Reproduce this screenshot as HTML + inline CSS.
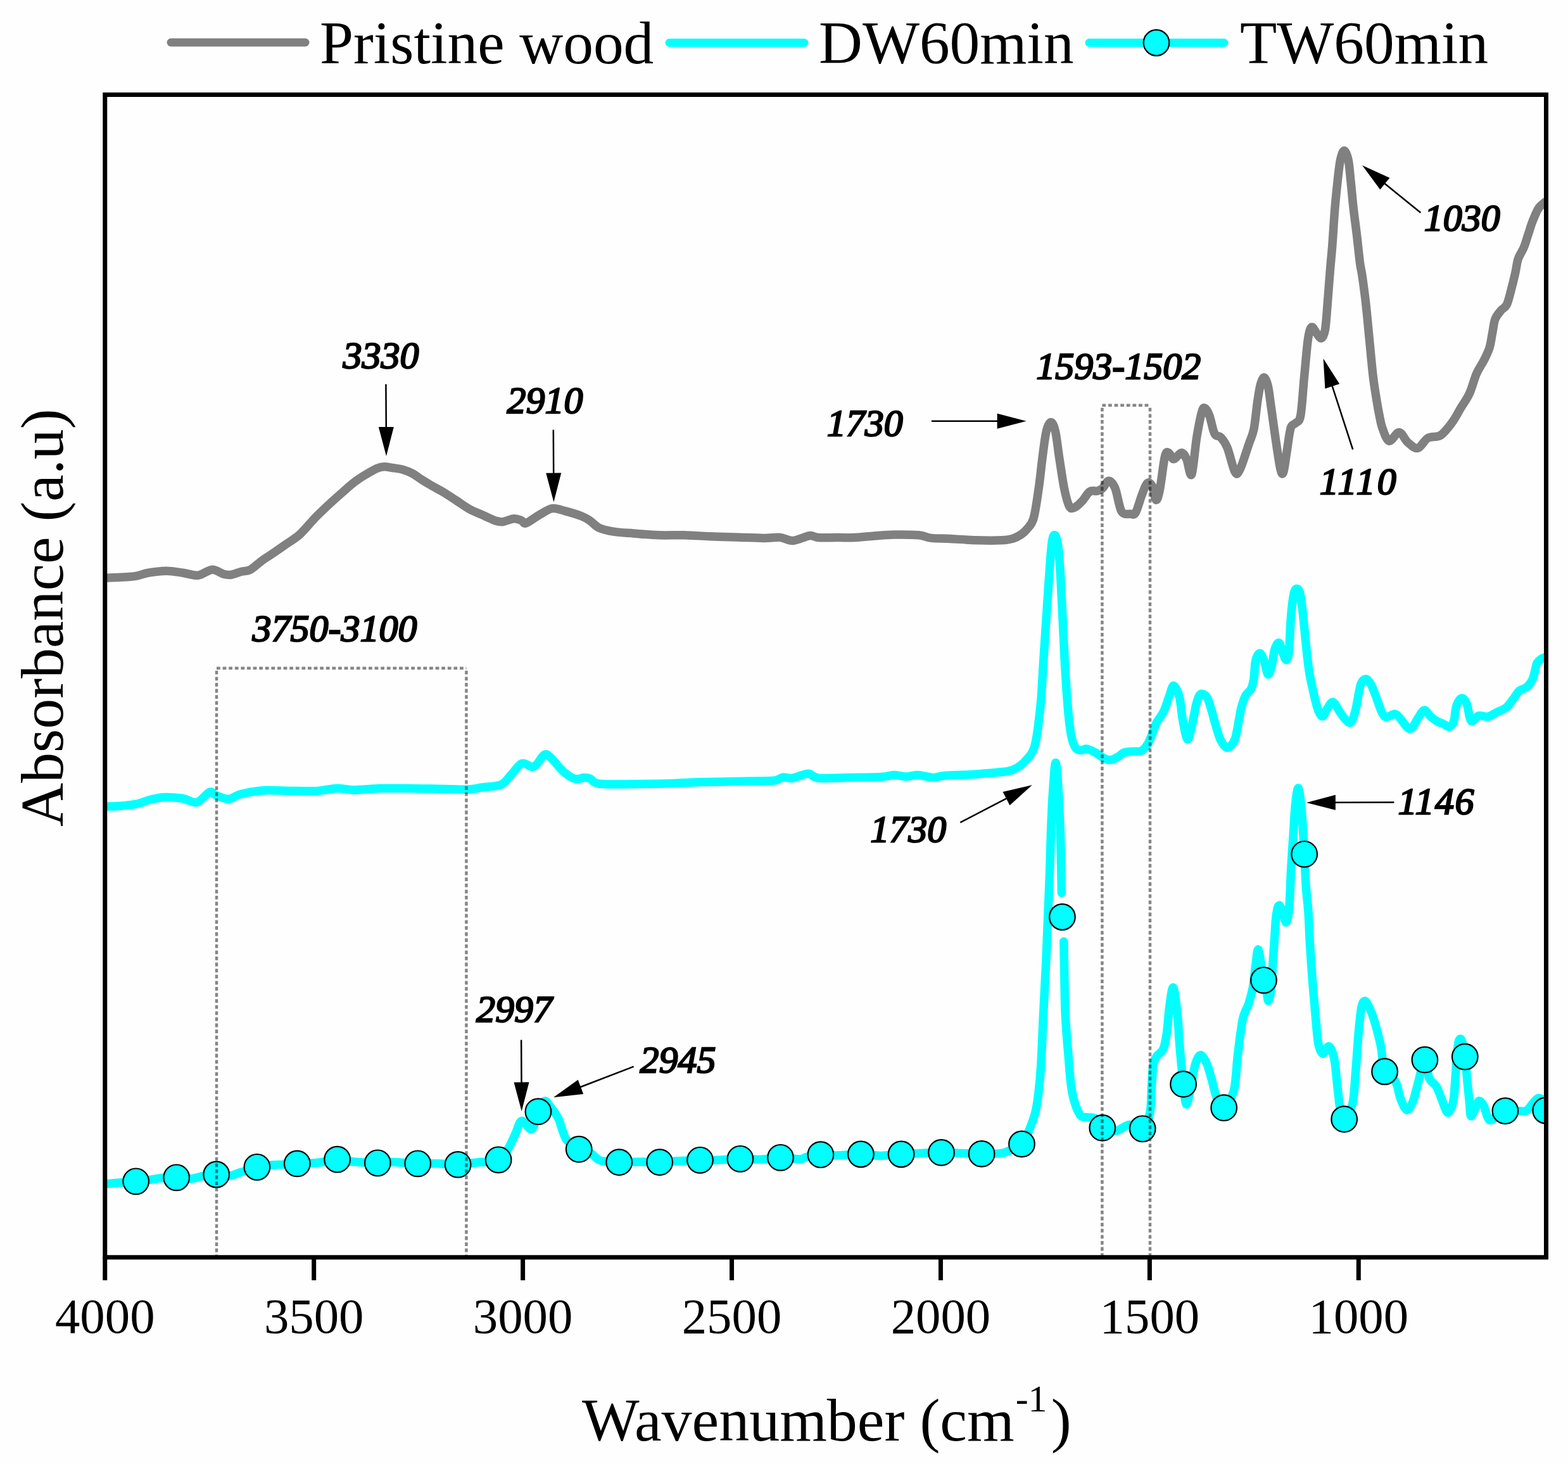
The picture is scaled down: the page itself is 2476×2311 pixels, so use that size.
<!DOCTYPE html>
<html><head><meta charset="utf-8"><title>FTIR spectra</title>
<style>html,body{margin:0;padding:0;background:#fff;} svg{display:block;}</style>
</head><body>
<svg width="2476" height="2311" viewBox="0 0 2476 2311">
<rect width="2476" height="2311" fill="#fefefe"/>
<defs><clipPath id="pc"><rect x="165.75" y="149.5" width="2275.75" height="1835.25"/></clipPath></defs>
<g clip-path="url(#pc)" fill="none" stroke-linejoin="round" stroke-linecap="round" stroke-width="13.5">
<path d="M166.0,912.3 C170.0,912.1 182.1,911.8 190.2,911.3 C198.2,910.8 206.9,910.5 214.3,909.3 C221.7,908.1 226.3,905.6 234.4,904.2 C242.5,902.9 253.5,901.2 262.6,901.2 C271.7,901.2 280.4,903.0 288.8,904.2 C297.2,905.4 305.2,909.0 312.9,908.2 C320.6,907.4 328.3,899.5 335.0,899.2 C341.7,898.9 348.2,904.9 353.2,906.2 C358.2,907.5 360.5,907.9 365.2,907.2 C369.9,906.5 376.3,903.5 381.3,902.2 C386.3,900.9 390.0,902.1 395.4,899.2 C400.8,896.4 407.5,889.5 413.5,885.1 C419.5,880.7 425.2,877.4 431.6,873.0 C438.0,868.6 445.1,863.7 451.8,859.0 C458.5,854.3 465.2,850.8 471.9,844.9 C478.6,839.0 487.3,828.5 492.0,823.5 C496.7,818.5 495.4,819.4 500.1,814.7 C504.8,810.1 513.5,801.8 520.2,795.6 C526.9,789.4 533.7,783.4 540.4,777.5 C547.1,771.6 553.8,765.4 560.5,760.4 C567.2,755.4 574.7,750.8 580.6,747.3 C586.5,743.8 591.3,741.0 595.7,739.2 C600.1,737.4 602.6,736.8 606.8,736.7 C611.0,736.6 615.9,738.0 620.8,738.7 C625.6,739.5 630.9,739.8 635.9,741.2 C640.9,742.6 646.0,744.6 651.0,747.3 C656.0,750.0 661.2,754.2 666.1,757.3 C671.0,760.4 674.7,762.6 680.5,766.0 C686.3,769.4 694.2,773.4 701.0,777.5 C707.8,781.6 714.4,786.1 721.1,790.5 C727.8,794.9 734.5,799.9 741.2,803.6 C747.9,807.3 754.6,809.7 761.3,812.7 C768.0,815.7 776.0,819.9 781.4,821.7 C786.8,823.5 788.5,824.2 793.5,823.7 C798.5,823.2 806.6,819.0 811.6,818.7 C816.6,818.4 820.5,820.5 823.7,821.7 C826.9,822.9 826.0,827.3 830.7,825.8 C835.4,824.3 845.0,816.6 851.9,812.7 C858.8,808.8 865.3,803.6 872.0,802.6 C878.7,801.6 884.4,804.6 892.1,806.6 C899.8,808.6 911.6,812.1 918.3,814.7 C924.9,817.3 927.4,819.2 932.0,822.3 C936.6,825.4 939.8,830.4 946.2,833.3 C952.6,836.1 961.2,837.9 970.3,839.4 C979.3,840.9 988.8,841.1 1000.5,842.0 C1012.2,842.9 1027.3,844.3 1040.7,844.8 C1054.1,845.3 1067.6,844.5 1081.0,844.8 C1094.4,845.1 1107.8,846.3 1121.2,846.8 C1134.6,847.3 1147.3,847.6 1161.4,848.0 C1175.5,848.4 1194.0,849.3 1205.7,849.4 C1217.5,849.5 1224.2,847.7 1231.9,848.4 C1239.6,849.1 1244.3,853.8 1252.0,853.4 C1259.7,853.0 1271.4,846.5 1278.1,845.7 C1284.8,844.9 1285.2,848.1 1292.2,848.6 C1299.2,849.1 1310.3,848.6 1320.0,848.6 C1329.7,848.6 1340.2,848.8 1350.3,848.4 C1360.4,848.0 1370.4,846.7 1380.5,846.0 C1390.6,845.3 1399.0,844.2 1410.7,844.0 C1422.4,843.8 1440.9,843.9 1450.9,844.8 C1461.0,845.7 1462.6,848.5 1471.0,849.4 C1479.4,850.3 1489.5,849.8 1501.2,850.4 C1512.9,851.0 1528.0,852.4 1541.4,852.8 C1554.8,853.2 1571.9,853.3 1581.7,852.8 C1591.5,852.3 1595.0,851.5 1600.0,850.0 C1605.0,848.5 1608.5,846.3 1612.0,844.0 C1615.5,841.7 1617.7,840.2 1621.0,836.0 C1624.3,831.8 1628.8,829.3 1632.0,818.5 C1635.2,807.7 1637.8,787.3 1640.2,771.0 C1642.6,754.7 1644.3,735.8 1646.3,720.7 C1648.3,705.6 1650.1,689.5 1652.3,680.5 C1654.5,671.5 1657.1,666.4 1659.4,666.4 C1661.8,666.4 1664.2,671.5 1666.4,680.5 C1668.6,689.5 1670.1,705.6 1672.4,720.7 C1674.8,735.8 1677.8,757.9 1680.5,771.0 C1683.2,784.1 1685.8,794.2 1688.5,799.2 C1691.2,804.2 1693.2,802.6 1696.6,801.2 C1700.0,799.9 1704.7,795.3 1708.7,791.1 C1712.7,786.9 1716.7,778.8 1720.7,776.1 C1724.7,773.4 1729.5,775.9 1732.8,775.0 C1736.1,774.1 1737.8,773.7 1740.8,771.0 C1743.8,768.3 1747.5,759.0 1750.9,759.0 C1754.3,759.0 1757.7,763.0 1761.0,771.0 C1764.3,779.0 1767.0,800.5 1771.0,807.2 C1775.0,813.9 1781.4,810.9 1785.1,811.3 C1788.8,811.6 1790.2,814.3 1793.2,809.3 C1796.2,804.3 1800.2,788.8 1803.2,781.1 C1806.2,773.4 1808.6,765.4 1811.3,763.0 C1814.0,760.6 1816.9,762.6 1819.3,767.0 C1821.7,771.4 1823.4,788.1 1825.4,789.1 C1827.4,790.1 1829.1,784.4 1831.4,773.0 C1833.7,761.6 1837.1,730.4 1839.4,720.7 C1841.8,711.0 1843.2,714.0 1845.5,714.7 C1847.8,715.4 1850.2,724.7 1853.5,724.7 C1856.8,724.7 1862.2,714.7 1865.6,714.7 C1868.9,714.7 1870.9,719.0 1873.6,724.7 C1876.3,730.4 1879.0,754.6 1881.7,748.9 C1884.4,743.2 1887.0,706.9 1889.7,690.5 C1892.4,674.1 1895.6,658.0 1897.8,650.3 C1900.0,642.6 1900.8,643.3 1902.8,644.3 C1904.8,645.3 1907.4,649.6 1909.9,656.3 C1912.4,663.0 1914.9,678.8 1917.9,684.5 C1920.9,690.2 1924.7,686.8 1928.0,690.5 C1931.3,694.2 1934.3,697.5 1938.0,706.6 C1941.7,715.7 1946.8,739.2 1950.1,744.9 C1953.4,750.6 1954.4,748.2 1958.1,740.8 C1961.8,733.4 1968.5,711.2 1972.2,700.6 C1975.9,690.0 1977.7,688.3 1980.0,677.0 C1982.3,665.7 1984.0,644.6 1985.8,632.8 C1987.6,621.0 1988.9,612.1 1990.7,606.0 C1992.5,599.9 1994.6,595.4 1996.5,596.0 C1998.4,596.6 2000.5,601.8 2002.3,609.5 C2004.1,617.2 2005.2,628.9 2007.2,642.5 C2009.2,656.1 2011.6,674.8 2014.0,691.0 C2016.4,707.2 2019.6,730.4 2021.7,739.5 C2023.8,748.6 2024.8,750.2 2026.6,745.4 C2028.4,740.5 2030.5,722.0 2032.4,710.4 C2034.3,698.8 2035.9,682.6 2038.2,675.5 C2040.5,668.4 2043.4,671.0 2046.0,667.8 C2048.6,664.6 2051.4,668.4 2053.7,656.1 C2056.0,643.8 2057.6,614.0 2059.6,594.0 C2061.6,574.0 2063.5,548.7 2065.4,535.8 C2067.3,522.9 2068.9,518.0 2071.2,516.4 C2073.5,514.8 2076.4,523.2 2079.0,526.1 C2081.6,529.0 2084.4,534.9 2086.7,533.9 C2088.9,532.9 2090.9,529.7 2092.5,520.3 C2094.1,510.9 2095.1,493.5 2096.4,477.6 C2097.7,461.7 2099.2,440.4 2100.5,425.0 C2101.8,409.6 2102.8,401.2 2104.0,385.0 C2105.2,368.8 2106.6,344.5 2108.0,327.8 C2109.4,311.1 2110.9,297.3 2112.3,284.7 C2113.7,272.1 2114.9,260.1 2116.6,252.3 C2118.3,244.5 2120.5,237.8 2122.6,237.8 C2124.7,237.8 2127.3,244.5 2129.0,252.3 C2130.7,260.1 2131.5,272.1 2132.8,284.7 C2134.2,297.3 2135.5,313.4 2137.1,327.8 C2138.7,342.2 2140.8,356.4 2142.5,370.9 C2144.2,385.4 2146.1,404.3 2147.5,415.0 C2148.9,425.7 2149.5,424.6 2151.0,435.0 C2152.5,445.4 2154.7,460.8 2156.6,477.6 C2158.5,494.4 2160.5,516.4 2162.4,535.8 C2164.3,555.2 2166.3,577.8 2168.2,594.0 C2170.1,610.2 2172.4,622.6 2174.0,632.8 C2175.6,643.0 2176.5,647.8 2178.0,655.0 C2179.5,662.2 2180.4,669.1 2183.0,676.0 C2185.6,682.9 2189.2,695.0 2193.6,696.1 C2198.0,697.2 2204.5,682.1 2209.4,682.5 C2214.3,682.9 2218.1,694.1 2223.0,698.3 C2227.9,702.4 2233.5,708.5 2238.8,707.4 C2244.1,706.3 2248.7,694.9 2254.7,691.5 C2260.7,688.1 2268.6,691.1 2275.0,687.0 C2281.4,682.9 2287.9,673.8 2293.2,666.6 C2298.5,659.4 2302.2,651.5 2306.7,644.0 C2311.2,636.5 2316.2,630.4 2320.3,621.4 C2324.5,612.4 2327.8,598.4 2331.6,589.7 C2335.4,581.0 2339.6,576.1 2343.0,569.3 C2346.4,562.5 2349.8,556.2 2352.0,549.0 C2354.2,541.8 2355.0,533.8 2356.5,526.3 C2358.0,518.8 2358.7,509.7 2361.0,503.7 C2363.3,497.7 2367.1,493.9 2370.1,490.1 C2373.1,486.3 2376.5,486.4 2379.2,481.1 C2381.8,475.8 2383.8,466.7 2386.0,458.4 C2388.2,450.1 2390.8,439.6 2392.7,431.3 C2394.6,423.0 2395.0,415.4 2397.3,408.6 C2399.6,401.8 2403.7,396.9 2406.3,390.5 C2408.9,384.1 2410.8,377.0 2413.1,370.2 C2415.4,363.4 2417.2,356.6 2419.9,349.8 C2422.6,343.0 2426.0,334.3 2429.0,329.4 C2432.0,324.5 2435.9,322.3 2438.0,320.4 C2440.1,318.5 2440.9,318.4 2441.5,318.0" stroke="#808080"/>
<path d="M166.0,1273.0 C170.0,1272.9 181.5,1273.0 190.2,1272.2 C198.9,1271.5 210.7,1270.1 218.4,1268.5 C226.1,1266.9 229.5,1264.2 236.5,1262.5 C243.5,1260.8 251.9,1258.8 260.6,1258.5 C269.3,1258.2 280.4,1259.2 288.8,1260.5 C297.2,1261.8 303.9,1268.2 310.9,1266.5 C317.9,1264.8 326.0,1252.2 331.0,1250.4 C336.0,1248.6 336.1,1253.7 341.1,1255.5 C346.1,1257.3 355.2,1261.7 361.2,1261.5 C367.2,1261.3 370.6,1256.4 377.3,1254.4 C384.0,1252.4 394.0,1250.6 401.4,1249.4 C408.8,1248.2 411.5,1247.6 421.6,1247.4 C431.7,1247.2 448.4,1248.2 461.8,1248.4 C475.2,1248.6 490.4,1249.1 502.1,1248.4 C513.8,1247.7 522.6,1244.6 532.2,1244.4 C541.9,1244.2 548.6,1247.0 560.0,1247.0 C571.4,1247.0 587.0,1245.0 600.4,1244.6 C613.8,1244.2 627.2,1244.5 640.6,1244.6 C654.0,1244.7 664.9,1244.7 680.8,1245.0 C696.7,1245.3 722.8,1246.5 736.2,1246.2 C749.6,1245.9 752.1,1244.3 761.3,1243.0 C770.5,1241.7 783.8,1241.9 791.5,1238.5 C799.2,1235.1 802.2,1227.9 807.6,1222.4 C813.0,1216.9 818.3,1207.3 823.7,1205.3 C829.1,1203.3 835.8,1210.2 839.8,1210.4 C843.8,1210.6 844.4,1209.5 847.8,1206.3 C851.1,1203.1 856.2,1192.9 859.9,1191.2 C863.6,1189.5 865.0,1191.8 870.0,1196.3 C875.0,1200.8 883.7,1212.9 890.1,1218.4 C896.5,1223.9 902.8,1228.0 908.2,1229.5 C913.6,1231.0 918.3,1227.5 922.3,1227.5 C926.3,1227.5 928.0,1227.6 932.0,1229.2 C936.0,1230.8 934.8,1235.9 946.2,1237.3 C957.6,1238.7 981.4,1237.8 1000.5,1237.7 C1019.6,1237.6 1044.0,1237.2 1060.8,1236.7 C1077.6,1236.2 1081.6,1235.3 1101.1,1234.7 C1120.5,1234.1 1157.4,1233.7 1177.5,1233.3 C1197.6,1232.9 1212.1,1233.3 1221.8,1232.3 C1231.5,1231.3 1230.9,1227.9 1235.9,1227.2 C1240.9,1226.5 1245.3,1229.2 1252.0,1228.2 C1258.7,1227.2 1269.4,1221.2 1276.1,1221.2 C1282.8,1221.2 1281.5,1227.2 1292.2,1228.2 C1302.9,1229.2 1323.8,1227.8 1340.2,1227.5 C1356.6,1227.2 1378.4,1227.2 1390.5,1226.5 C1402.6,1225.8 1406.0,1223.5 1412.7,1223.4 C1419.4,1223.3 1424.8,1226.1 1430.8,1226.1 C1436.8,1226.1 1441.9,1223.2 1448.9,1223.4 C1455.9,1223.6 1466.0,1227.3 1473.0,1227.5 C1480.0,1227.7 1481.4,1225.2 1491.1,1224.4 C1500.8,1223.6 1519.7,1223.5 1531.4,1222.8 C1543.2,1222.1 1551.5,1221.3 1561.6,1220.4 C1571.7,1219.5 1584.4,1218.8 1591.8,1217.4 C1599.2,1216.0 1601.4,1214.5 1605.8,1212.0 C1610.2,1209.5 1613.4,1208.0 1618.1,1202.3 C1622.8,1196.5 1629.8,1192.2 1633.9,1177.5 C1638.1,1162.8 1640.7,1136.0 1643.0,1114.1 C1645.3,1092.2 1646.0,1068.8 1647.5,1046.2 C1649.0,1023.6 1650.5,1001.0 1652.0,978.4 C1653.5,955.8 1655.1,930.9 1656.6,910.5 C1658.1,890.1 1659.5,867.1 1661.1,856.2 C1662.7,845.3 1664.4,843.4 1666.1,844.9 C1667.8,846.4 1669.9,854.3 1671.3,865.2 C1672.7,876.1 1673.6,891.6 1674.7,910.5 C1675.8,929.4 1677.0,955.8 1678.1,978.4 C1679.2,1001.0 1680.1,1023.6 1681.4,1046.2 C1682.7,1068.8 1684.4,1095.5 1686.0,1114.1 C1687.6,1132.7 1689.0,1147.0 1691.0,1158.0 C1693.0,1169.0 1695.3,1175.6 1698.0,1180.0 C1700.7,1184.4 1704.2,1184.1 1707.2,1184.4 C1710.2,1184.8 1712.4,1181.5 1716.2,1182.1 C1720.0,1182.7 1726.0,1186.0 1729.8,1188.0 C1733.6,1190.0 1735.9,1192.5 1738.9,1194.3 C1741.9,1196.1 1744.9,1198.1 1747.9,1198.9 C1750.9,1199.7 1754.0,1199.7 1757.0,1198.9 C1760.0,1198.1 1763.0,1196.1 1766.0,1194.3 C1769.0,1192.5 1771.3,1189.3 1775.1,1188.0 C1778.9,1186.7 1784.2,1186.7 1788.7,1186.2 C1793.2,1185.8 1798.5,1187.0 1802.3,1185.3 C1806.1,1183.6 1809.0,1179.2 1811.3,1176.2 C1813.6,1173.2 1814.2,1171.0 1815.9,1167.2 C1817.6,1163.4 1819.5,1158.1 1821.3,1153.6 C1823.1,1149.1 1824.0,1145.1 1826.7,1140.0 C1829.4,1134.9 1834.3,1130.2 1837.6,1123.2 C1840.9,1116.2 1844.0,1105.1 1846.6,1098.3 C1849.2,1091.5 1850.8,1082.0 1853.4,1082.4 C1856.0,1082.8 1860.1,1091.7 1862.4,1100.5 C1864.8,1109.3 1865.4,1124.3 1867.5,1135.4 C1869.6,1146.5 1872.6,1165.8 1875.1,1167.1 C1877.6,1168.4 1880.3,1152.0 1882.6,1143.0 C1884.9,1134.0 1886.8,1120.3 1888.7,1112.8 C1890.6,1105.2 1892.2,1100.6 1894.0,1097.7 C1895.8,1094.8 1897.1,1094.8 1899.2,1095.5 C1901.3,1096.2 1904.5,1098.1 1906.8,1102.2 C1909.1,1106.3 1910.5,1112.9 1912.8,1120.3 C1915.0,1127.7 1918.0,1139.2 1920.3,1146.7 C1922.6,1154.2 1923.9,1160.2 1926.4,1165.6 C1928.9,1171.0 1932.6,1177.2 1935.4,1179.2 C1938.2,1181.2 1940.5,1180.0 1943.0,1177.7 C1945.5,1175.4 1948.2,1172.6 1950.5,1165.6 C1952.8,1158.5 1955.0,1143.6 1956.6,1135.4 C1958.2,1127.2 1958.5,1122.9 1960.3,1116.6 C1962.0,1110.3 1964.6,1102.5 1967.1,1097.7 C1969.6,1092.9 1973.3,1092.3 1975.4,1087.9 C1977.5,1083.5 1978.7,1078.7 1979.9,1071.3 C1981.1,1063.9 1981.0,1050.1 1982.6,1043.4 C1984.2,1036.7 1987.1,1031.3 1989.4,1031.3 C1991.7,1031.3 1994.1,1037.9 1996.2,1043.4 C1998.3,1048.9 2000.2,1063.2 2002.2,1064.5 C2004.2,1065.8 2006.5,1057.5 2008.3,1050.9 C2010.1,1044.4 2010.9,1031.2 2012.8,1025.2 C2014.7,1019.2 2017.6,1014.2 2019.6,1014.7 C2021.6,1015.2 2023.0,1023.8 2024.9,1028.3 C2026.8,1032.8 2029.2,1041.8 2030.9,1041.8 C2032.7,1041.8 2034.2,1039.4 2035.4,1028.3 C2036.7,1017.2 2037.1,990.5 2038.4,975.4 C2039.7,960.3 2041.3,945.4 2043.0,937.7 C2044.7,930.0 2046.6,929.1 2048.3,929.4 C2050.1,929.6 2051.9,931.5 2053.5,939.2 C2055.1,946.9 2056.6,961.8 2058.1,975.4 C2059.6,989.0 2061.1,1006.9 2062.6,1020.7 C2064.1,1034.5 2065.3,1047.1 2067.1,1058.4 C2068.8,1069.7 2070.8,1078.5 2073.1,1088.6 C2075.4,1098.7 2078.2,1111.8 2080.7,1118.8 C2083.2,1125.8 2085.7,1130.9 2088.2,1130.9 C2090.7,1130.9 2093.0,1122.6 2095.8,1118.8 C2098.6,1115.0 2101.5,1107.5 2104.8,1108.2 C2108.1,1109.0 2112.1,1118.8 2115.4,1123.3 C2118.7,1127.8 2121.4,1132.6 2124.4,1135.4 C2127.4,1138.2 2130.7,1142.7 2133.5,1139.9 C2136.3,1137.1 2138.5,1128.6 2141.0,1118.8 C2143.5,1109.0 2145.9,1088.9 2148.6,1081.1 C2151.2,1073.3 2154.1,1072.0 2156.9,1072.0 C2159.7,1072.0 2162.6,1076.6 2165.2,1081.1 C2167.8,1085.6 2169.9,1092.0 2172.7,1099.2 C2175.5,1106.4 2179.2,1118.5 2181.9,1124.0 C2184.7,1129.5 2185.8,1131.5 2189.2,1132.0 C2192.6,1132.5 2198.7,1126.5 2202.3,1126.9 C2206.0,1127.3 2207.7,1130.6 2211.1,1134.2 C2214.5,1137.8 2219.5,1146.4 2222.7,1148.8 C2225.8,1151.2 2227.3,1151.2 2230.0,1148.8 C2232.7,1146.4 2235.6,1138.8 2238.8,1134.2 C2242.0,1129.6 2245.6,1121.6 2249.0,1121.1 C2252.4,1120.6 2255.8,1128.4 2259.2,1131.3 C2262.6,1134.2 2266.0,1136.6 2269.4,1138.6 C2272.8,1140.5 2276.4,1141.5 2279.6,1143.0 C2282.8,1144.5 2285.7,1148.0 2288.4,1147.3 C2291.1,1146.6 2293.8,1144.2 2295.7,1138.6 C2297.6,1133.0 2297.9,1119.9 2300.0,1113.8 C2302.1,1107.7 2305.4,1102.6 2308.1,1102.1 C2310.8,1101.6 2314.0,1106.0 2316.1,1110.9 C2318.2,1115.8 2319.1,1126.7 2320.5,1131.3 C2321.9,1135.9 2322.4,1138.8 2324.8,1138.6 C2327.2,1138.3 2331.0,1131.0 2335.1,1129.8 C2339.2,1128.6 2344.8,1132.3 2349.6,1131.3 C2354.4,1130.3 2359.3,1126.4 2364.2,1124.0 C2369.1,1121.6 2374.4,1120.4 2378.8,1116.7 C2383.2,1113.0 2387.1,1106.5 2390.5,1102.1 C2393.9,1097.7 2395.8,1093.3 2399.2,1090.4 C2402.6,1087.5 2407.5,1087.5 2410.9,1084.6 C2414.3,1081.7 2417.5,1077.3 2419.7,1072.9 C2421.9,1068.5 2422.8,1062.8 2424.0,1058.4 C2425.2,1054.0 2425.5,1049.6 2427.0,1046.7 C2428.5,1043.8 2430.7,1042.3 2432.8,1040.8 C2434.9,1039.3 2438.0,1038.5 2439.4,1037.9 C2440.8,1037.3 2441.2,1037.2 2441.5,1037.0" stroke="#00FFFF"/>
<path d="M166.0,1868.9 C170.7,1868.5 186.1,1867.2 194.2,1866.5 C202.3,1865.8 207.6,1865.5 214.7,1864.8 C221.8,1864.1 229.5,1863.3 236.5,1862.4 C243.5,1861.5 249.6,1860.0 256.6,1859.4 C263.6,1858.8 271.3,1858.6 278.7,1858.8 C286.1,1859.0 295.1,1860.9 300.8,1860.8 C306.5,1860.7 309.5,1859.1 312.9,1858.4 C316.3,1857.7 316.2,1857.1 321.0,1856.4 C325.8,1855.7 335.0,1854.0 341.7,1854.0 C348.4,1854.0 355.3,1856.8 361.2,1856.4 C367.1,1856.0 372.9,1852.7 377.3,1851.4 C381.7,1850.1 382.6,1849.9 387.4,1848.4 C392.2,1846.9 399.2,1843.8 405.9,1842.3 C412.6,1840.8 420.6,1840.0 427.6,1839.3 C434.6,1838.6 440.8,1838.7 447.7,1838.3 C454.6,1837.9 461.9,1837.2 469.3,1836.9 C476.7,1836.6 485.2,1836.7 492.0,1836.3 C498.8,1835.9 503.3,1835.3 510.1,1834.3 C516.9,1833.3 525.3,1830.3 532.6,1830.2 C539.9,1830.1 543.5,1832.5 554.1,1833.4 C564.7,1834.3 585.2,1835.6 596.3,1835.8 C607.4,1836.0 609.9,1834.2 620.5,1834.4 C631.1,1834.6 648.0,1836.4 659.7,1836.8 C671.4,1837.2 680.3,1836.5 690.9,1836.8 C701.5,1837.1 713.0,1838.7 723.1,1838.4 C733.2,1838.1 743.2,1836.0 751.3,1835.2 C759.3,1834.4 765.4,1834.5 771.4,1833.8 C777.4,1833.1 782.1,1834.0 787.1,1830.8 C792.1,1827.6 797.2,1821.4 801.6,1814.7 C806.0,1808.0 809.9,1798.0 813.6,1790.5 C817.3,1783.0 819.3,1770.7 823.7,1769.4 C828.1,1768.1 835.4,1785.0 839.8,1782.5 C844.2,1780.0 846.5,1762.1 849.9,1754.7 C853.2,1747.3 856.5,1739.3 859.9,1738.2 C863.2,1737.1 866.3,1743.6 870.0,1748.3 C873.7,1753.0 878.1,1758.0 882.1,1766.4 C886.1,1774.8 888.8,1790.6 894.1,1798.6 C899.5,1806.5 907.9,1810.5 914.2,1814.1 C920.5,1817.7 926.7,1817.3 932.0,1820.2 C937.3,1823.1 941.5,1829.0 946.2,1831.3 C950.9,1833.6 955.0,1833.3 960.2,1833.9 C965.5,1834.5 969.3,1834.7 977.7,1834.7 C986.1,1834.7 999.8,1833.9 1010.5,1833.9 C1021.2,1833.9 1031.6,1834.9 1041.7,1834.7 C1051.8,1834.5 1060.3,1833.3 1070.9,1832.7 C1081.5,1832.1 1095.4,1831.5 1105.5,1831.3 C1115.6,1831.1 1120.7,1831.6 1131.3,1831.3 C1141.9,1831.0 1157.2,1829.5 1168.9,1829.3 C1180.6,1829.1 1191.1,1830.6 1201.7,1830.3 C1212.3,1830.0 1222.5,1827.4 1232.5,1827.3 C1242.5,1827.2 1255.1,1830.1 1262.0,1829.9 C1268.9,1829.7 1268.4,1827.5 1274.1,1826.3 C1279.8,1825.1 1288.2,1823.1 1295.9,1822.7 C1303.6,1822.3 1309.5,1824.1 1320.1,1824.0 C1330.7,1823.9 1347.7,1821.9 1359.4,1822.0 C1371.1,1822.1 1379.9,1824.4 1390.5,1824.4 C1401.1,1824.4 1412.4,1822.7 1423.1,1822.0 C1433.8,1821.3 1444.3,1820.8 1454.9,1820.4 C1465.5,1820.0 1476.1,1819.4 1486.5,1819.4 C1496.9,1819.4 1506.7,1820.1 1517.3,1820.4 C1527.9,1820.7 1539.4,1821.4 1550.1,1821.4 C1560.8,1821.4 1573.1,1821.9 1581.7,1820.4 C1590.3,1818.9 1596.5,1814.7 1601.8,1812.3 C1607.1,1809.9 1610.4,1808.8 1613.5,1805.9 C1616.6,1803.0 1616.7,1803.8 1620.4,1795.0 C1624.1,1786.2 1631.7,1770.2 1635.5,1753.2 C1639.3,1736.2 1641.0,1718.0 1643.0,1692.8 C1645.0,1667.6 1646.0,1632.5 1647.5,1602.3 C1649.0,1572.1 1650.8,1538.8 1652.1,1511.7 C1653.3,1484.7 1654.1,1462.0 1655.0,1440.0 C1655.9,1418.0 1656.7,1401.7 1657.5,1380.0 C1658.3,1358.3 1658.8,1331.7 1659.6,1310.0 C1660.4,1288.3 1661.4,1267.7 1662.6,1250.0 C1663.8,1232.3 1665.5,1204.0 1667.0,1204.0 C1668.5,1204.0 1670.3,1232.3 1671.5,1250.0 C1672.7,1267.7 1673.5,1291.7 1674.2,1310.0 C1674.9,1328.3 1675.1,1343.4 1675.5,1360.0 C1675.9,1376.6 1676.2,1401.2 1676.4,1409.4" stroke="#00FFFF"/>
<path d="M1679.8,1486.3 C1680.0,1495.6 1680.4,1522.6 1680.8,1541.9 C1681.2,1561.2 1681.3,1582.2 1682.3,1602.3 C1683.3,1622.4 1685.0,1642.5 1686.8,1662.6 C1688.5,1682.7 1689.8,1706.9 1692.8,1723.0 C1695.8,1739.1 1700.9,1752.4 1704.9,1759.2 C1708.9,1766.0 1713.0,1762.8 1717.0,1763.8 C1721.0,1764.8 1725.1,1762.5 1729.1,1765.3 C1733.1,1768.1 1735.3,1777.1 1740.8,1780.4 C1746.3,1783.7 1755.2,1785.8 1762.3,1785.0 C1769.4,1784.2 1776.4,1776.0 1783.4,1775.5 C1790.4,1775.0 1798.8,1784.8 1804.2,1781.8 C1809.6,1778.8 1813.4,1768.3 1815.8,1757.2 C1818.2,1746.1 1817.7,1727.8 1818.6,1714.9 C1819.5,1702.0 1820.0,1687.7 1821.4,1679.7 C1822.8,1671.7 1824.4,1671.0 1827.0,1667.0 C1829.6,1663.0 1834.3,1661.9 1836.9,1655.8 C1839.5,1649.7 1840.8,1641.7 1842.5,1630.4 C1844.2,1619.1 1845.1,1600.1 1846.8,1588.2 C1848.5,1576.3 1850.7,1556.6 1852.8,1558.9 C1854.9,1561.2 1857.8,1588.0 1859.4,1602.3 C1861.0,1616.6 1860.8,1626.3 1862.3,1644.5 C1863.8,1662.7 1866.7,1694.9 1868.6,1711.4 C1870.5,1727.9 1871.5,1742.7 1873.5,1743.3 C1875.5,1743.9 1878.2,1725.5 1880.6,1714.9 C1882.9,1704.3 1885.0,1687.9 1887.6,1679.7 C1890.2,1671.5 1893.0,1665.6 1896.1,1665.6 C1899.1,1665.6 1902.9,1672.7 1905.9,1679.7 C1909.0,1686.8 1911.8,1699.0 1914.4,1707.9 C1917.0,1716.8 1918.4,1726.4 1921.4,1733.2 C1924.5,1740.0 1928.2,1750.6 1932.7,1748.7 C1937.2,1746.8 1944.7,1734.7 1948.2,1722.0 C1951.7,1709.3 1952.2,1686.8 1953.8,1672.7 C1955.4,1658.6 1956.6,1648.1 1958.0,1637.5 C1959.4,1626.9 1960.8,1616.4 1962.3,1609.3 C1963.8,1602.2 1965.4,1599.2 1967.0,1595.0 C1968.6,1590.8 1969.8,1590.7 1971.8,1584.2 C1973.8,1577.7 1977.0,1566.6 1978.9,1556.0 C1980.8,1545.4 1981.7,1530.2 1983.1,1520.8 C1984.5,1511.4 1985.2,1495.3 1987.3,1499.7 C1989.4,1504.1 1993.4,1536.7 1995.5,1547.3 C1997.6,1557.9 1998.8,1557.6 2000.0,1563.1 C2001.2,1568.5 2001.6,1580.0 2002.8,1580.0 C2004.0,1580.0 2005.8,1573.0 2007.0,1563.1 C2008.2,1553.2 2009.0,1534.9 2009.9,1520.8 C2010.9,1506.7 2011.8,1491.5 2012.7,1478.6 C2013.6,1465.7 2014.3,1451.6 2015.5,1443.4 C2016.7,1435.2 2018.0,1430.0 2019.7,1429.3 C2021.4,1428.6 2023.5,1434.7 2025.4,1439.2 C2027.3,1443.7 2029.3,1456.6 2031.0,1456.1 C2032.7,1455.6 2034.4,1445.6 2035.5,1436.3 C2036.6,1427.0 2037.0,1411.1 2037.5,1400.0 C2038.0,1388.9 2037.9,1384.6 2038.8,1369.7 C2039.7,1354.8 2041.6,1327.0 2042.7,1310.4 C2043.8,1293.8 2044.3,1281.1 2045.5,1270.0 C2046.7,1258.9 2048.5,1244.0 2050.0,1244.0 C2051.5,1244.0 2053.2,1258.9 2054.5,1270.0 C2055.8,1281.1 2056.7,1297.4 2057.6,1310.4 C2058.5,1323.5 2058.9,1333.4 2059.7,1348.3 C2060.5,1363.2 2061.2,1384.7 2062.3,1400.0 C2063.4,1415.3 2065.0,1425.0 2066.0,1440.0 C2067.0,1455.0 2067.4,1472.0 2068.5,1490.0 C2069.6,1508.0 2071.1,1530.2 2072.5,1548.0 C2073.9,1565.8 2075.2,1580.8 2076.7,1597.0 C2078.2,1613.2 2079.5,1634.5 2081.5,1645.5 C2083.5,1656.5 2086.0,1662.1 2088.8,1663.2 C2091.6,1664.3 2095.5,1650.8 2098.5,1651.9 C2101.5,1653.0 2104.4,1660.0 2106.6,1669.7 C2108.8,1679.4 2109.8,1696.6 2111.4,1710.1 C2113.0,1723.6 2114.4,1741.1 2116.3,1750.5 C2118.2,1759.9 2119.5,1768.0 2122.7,1766.7 C2125.9,1765.4 2132.7,1754.5 2135.7,1742.4 C2138.7,1730.3 2138.9,1712.8 2140.5,1693.9 C2142.1,1675.1 2143.8,1646.8 2145.4,1629.3 C2147.0,1611.8 2148.3,1597.0 2150.2,1588.9 C2152.1,1580.8 2154.0,1578.9 2156.7,1580.8 C2159.4,1582.7 2163.4,1592.7 2166.4,1600.2 C2169.4,1607.8 2172.0,1617.2 2174.4,1626.1 C2176.8,1635.0 2178.9,1642.6 2180.9,1653.5 C2182.9,1664.4 2182.8,1682.6 2186.6,1691.5 C2190.4,1700.4 2199.3,1699.8 2203.5,1706.9 C2207.7,1714.0 2208.6,1726.8 2211.6,1734.3 C2214.6,1741.8 2218.1,1751.3 2221.3,1752.1 C2224.5,1752.9 2228.0,1746.2 2231.0,1739.2 C2234.0,1732.2 2235.9,1721.1 2239.1,1710.1 C2242.2,1699.0 2246.9,1674.2 2249.9,1672.9 C2252.9,1671.6 2253.9,1695.0 2256.9,1702.0 C2259.9,1709.0 2265.0,1709.6 2268.2,1715.0 C2271.4,1720.4 2273.4,1727.4 2276.3,1734.3 C2279.2,1741.2 2282.9,1755.3 2285.9,1756.3 C2288.9,1757.3 2292.5,1748.2 2294.5,1740.1 C2296.5,1732.0 2296.8,1718.6 2297.7,1707.8 C2298.6,1697.0 2299.0,1685.8 2299.9,1675.4 C2300.8,1665.0 2301.8,1650.9 2303.1,1645.3 C2304.4,1639.7 2306.3,1638.2 2308.0,1642.0 C2309.7,1645.8 2311.8,1657.1 2313.3,1668.1 C2314.8,1679.1 2315.9,1695.8 2317.1,1707.8 C2318.3,1719.8 2319.5,1731.1 2320.4,1740.1 C2321.3,1749.1 2321.1,1759.9 2322.5,1761.7 C2323.9,1763.5 2326.8,1754.9 2329.0,1750.9 C2331.2,1746.9 2333.1,1738.8 2335.4,1737.9 C2337.7,1737.0 2340.8,1741.5 2343.0,1745.5 C2345.2,1749.5 2346.4,1757.9 2348.4,1761.7 C2350.4,1765.5 2350.1,1769.4 2354.8,1768.1 C2359.6,1766.8 2369.4,1755.9 2376.9,1753.6 C2384.4,1751.3 2394.4,1754.2 2400.1,1754.1 C2405.8,1754.0 2407.3,1755.3 2410.9,1753.0 C2414.5,1750.7 2418.6,1743.3 2421.7,1740.1 C2424.8,1736.9 2426.7,1734.3 2429.2,1733.6 C2431.7,1732.9 2434.6,1735.4 2436.7,1735.8 C2438.8,1736.2 2440.7,1736.0 2441.5,1736.0" stroke="#00FFFF"/>
</g>
<g clip-path="url(#pc)" fill="#00FFFF" stroke="#000" stroke-width="2.2">
<circle cx="214.7" cy="1864.8" r="20.3"/>
<circle cx="278.7" cy="1858.8" r="20.3"/>
<circle cx="341.7" cy="1854" r="20.3"/>
<circle cx="405.9" cy="1842.3" r="20.3"/>
<circle cx="469.3" cy="1836.9" r="20.3"/>
<circle cx="532.6" cy="1830.2" r="20.3"/>
<circle cx="596.3" cy="1835.8" r="20.3"/>
<circle cx="659.7" cy="1836.8" r="20.3"/>
<circle cx="723.1" cy="1838.4" r="20.3"/>
<circle cx="787.1" cy="1830.8" r="20.3"/>
<circle cx="849.9" cy="1754.7" r="20.3"/>
<circle cx="914.2" cy="1814.1" r="20.3"/>
<circle cx="977.7" cy="1834.7" r="20.3"/>
<circle cx="1041.7" cy="1834.7" r="20.3"/>
<circle cx="1105.5" cy="1831.3" r="20.3"/>
<circle cx="1168.9" cy="1829.3" r="20.3"/>
<circle cx="1232.5" cy="1827.3" r="20.3"/>
<circle cx="1295.9" cy="1822.7" r="20.3"/>
<circle cx="1359.4" cy="1822" r="20.3"/>
<circle cx="1423.1" cy="1822" r="20.3"/>
<circle cx="1486.5" cy="1819.4" r="20.3"/>
<circle cx="1550.1" cy="1821.4" r="20.3"/>
<circle cx="1613.5" cy="1805.9" r="20.3"/>
<circle cx="1677.4" cy="1447.5" r="20.3"/>
<circle cx="1740.8" cy="1780.4" r="20.3"/>
<circle cx="1804.2" cy="1781.8" r="20.3"/>
<circle cx="1868.6" cy="1711.4" r="20.3"/>
<circle cx="1932.7" cy="1748.7" r="20.3"/>
<circle cx="1995.5" cy="1547.3" r="20.3"/>
<circle cx="2059.7" cy="1348.3" r="20.3"/>
<circle cx="2122.7" cy="1766.7" r="20.3"/>
<circle cx="2186.6" cy="1691.5" r="20.3"/>
<circle cx="2249.9" cy="1672.9" r="20.3"/>
<circle cx="2313.3" cy="1668.1" r="20.3"/>
<circle cx="2376.9" cy="1753.6" r="20.3"/>
<circle cx="2440.7" cy="1753" r="20.3"/>
</g>
<g fill="none" stroke="#000" stroke-opacity="0.47" stroke-width="4.5" stroke-dasharray="5.8 3.8">
<path d="M342,1054.8 H736.4"/><path d="M342,1058.8 V1984.75"/><path d="M736.4,1058.8 V1984.75"/>
<path d="M1740.4,639.8 H1816"/><path d="M1740.4,643.8 V1984.75"/><path d="M1816,643.8 V1984.75"/>
</g>
<rect x="165.75" y="149.5" width="2275.75" height="1835.25" fill="none" stroke="#000" stroke-width="7"/>
<line x1="165.75" y1="1984" x2="165.75" y2="2021" stroke="#000" stroke-width="7"/>
<line x1="495.68" y1="1984" x2="495.68" y2="2021" stroke="#000" stroke-width="7"/>
<line x1="825.60" y1="1984" x2="825.60" y2="2021" stroke="#000" stroke-width="7"/>
<line x1="1155.53" y1="1984" x2="1155.53" y2="2021" stroke="#000" stroke-width="7"/>
<line x1="1485.45" y1="1984" x2="1485.45" y2="2021" stroke="#000" stroke-width="7"/>
<line x1="1815.38" y1="1984" x2="1815.38" y2="2021" stroke="#000" stroke-width="7"/>
<line x1="2145.30" y1="1984" x2="2145.30" y2="2021" stroke="#000" stroke-width="7"/>
<g font-family="Liberation Serif, serif" font-size="78.8" text-anchor="middle" fill="#000">
<text x="165.75" y="2104">4000</text>
<text x="495.68" y="2104">3500</text>
<text x="825.60" y="2104">3000</text>
<text x="1155.53" y="2104">2500</text>
<text x="1485.45" y="2104">2000</text>
<text x="1815.38" y="2104">1500</text>
<text x="2145.30" y="2104">1000</text>
</g>
<text x="919" y="2274" font-family="Liberation Serif, serif" font-size="96" fill="#000">Wavenumber (cm<tspan font-size="60" dx="2" dy="-46">-1</tspan><tspan dx="6" dy="46">)</tspan></text>
<text transform="translate(99,1305) rotate(-90)" x="0" y="0" font-family="Liberation Serif, serif" font-size="95.8" fill="#000">Absorbance (a.u)</text>
<line x1="270" y1="67" x2="482" y2="67" stroke="#808080" stroke-width="13" stroke-linecap="round"/>
<line x1="1057" y1="67.5" x2="1270" y2="67.5" stroke="#00FFFF" stroke-width="13" stroke-linecap="round"/>
<line x1="1720" y1="67.5" x2="1933" y2="67.5" stroke="#00FFFF" stroke-width="13" stroke-linecap="round"/>
<circle cx="1826" cy="67.5" r="20.3" fill="#00FFFF" stroke="#000" stroke-width="2.2"/>
<g font-family="Liberation Serif, serif" font-size="95.4" fill="#000">
<text x="505" y="99.7">Pristine wood</text>
<text x="1293" y="99.7">DW60min</text>
<text x="1958" y="99.7">TW60min</text>
</g>
<g font-family="Liberation Serif, serif" font-size="60" font-style="italic" fill="#000" stroke="#000" stroke-width="2.4">
<text x="541.6" y="581">3330</text>
<text x="800.5" y="652">2910</text>
<text x="1305.7" y="688.4">1730</text>
<text x="1636.3" y="597.9">1593-1502</text>
<text x="2248.7" y="363.8">1030</text>
<text x="2083.7" y="779.8" letter-spacing="3.3">1110</text>
<text x="398.6" y="1012.3">3750-3100</text>
<text x="1374.2" y="1328.6">1730</text>
<text x="2207.5" y="1284.8" letter-spacing="1.5">1146</text>
<text x="752.1" y="1613.2">2997</text>
<text x="1010.6" y="1692.5">2945</text>
</g>
<line x1="609.4" y1="606.6" x2="609.8" y2="676.0" stroke="#000" stroke-width="2.5"/><polygon points="610.0,720.0 597.8,674.1 621.8,673.9" fill="#000"/>
<line x1="873.8" y1="678.5" x2="874.2" y2="748.6" stroke="#000" stroke-width="2.5"/><polygon points="874.4,792.6 862.2,746.7 886.2,746.5" fill="#000"/>
<line x1="1470.9" y1="664.8" x2="1576.6" y2="664.8" stroke="#000" stroke-width="2.5"/><polygon points="1620.6,664.8 1574.6,676.8 1574.6,652.8" fill="#000"/>
<line x1="2243.3" y1="335.8" x2="2185.3" y2="288.7" stroke="#000" stroke-width="2.5"/><polygon points="2151.1,261.0 2194.4,280.7 2179.3,299.3" fill="#000"/>
<line x1="2136.2" y1="709.5" x2="2103.2" y2="607.8" stroke="#000" stroke-width="2.5"/><polygon points="2089.6,565.9 2115.2,605.9 2092.4,613.4" fill="#000"/>
<line x1="1516.3" y1="1298.3" x2="1590.8" y2="1259.6" stroke="#000" stroke-width="2.5"/><polygon points="1629.8,1239.3 1594.5,1271.2 1583.5,1249.9" fill="#000"/>
<line x1="2201.4" y1="1266.5" x2="2106.9" y2="1266.8" stroke="#000" stroke-width="2.5"/><polygon points="2062.9,1267.0 2108.9,1254.8 2108.9,1278.8" fill="#000"/>
<line x1="823.1" y1="1641.5" x2="823.5" y2="1710.3" stroke="#000" stroke-width="2.5"/><polygon points="823.7,1754.3 811.5,1708.4 835.5,1708.2" fill="#000"/>
<line x1="1000.6" y1="1683.7" x2="915.1" y2="1716.5" stroke="#000" stroke-width="2.5"/><polygon points="874.0,1732.2 912.7,1704.5 921.2,1726.9" fill="#000"/>
</svg>
</body></html>
